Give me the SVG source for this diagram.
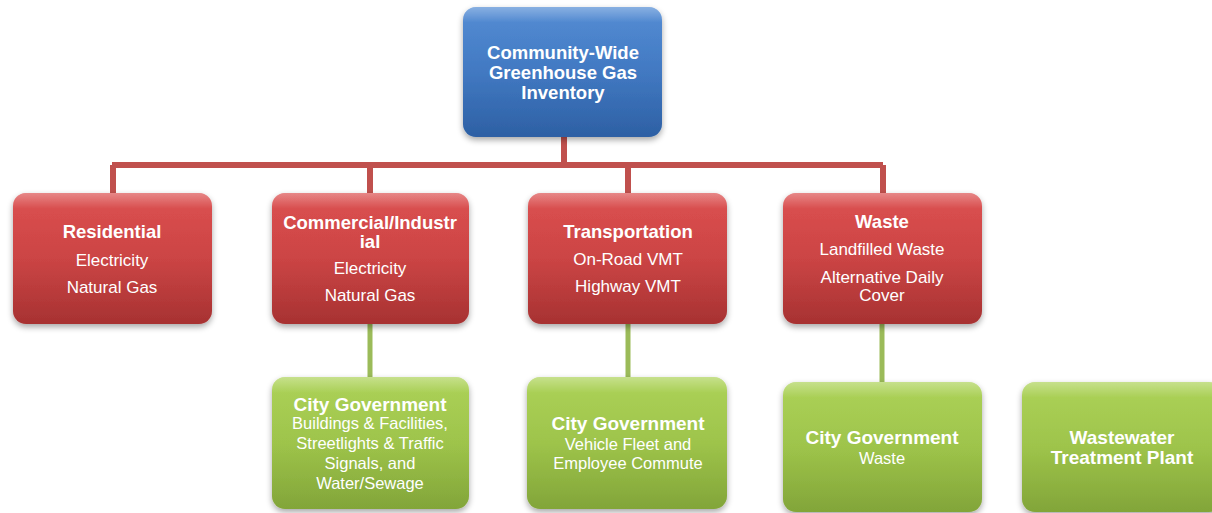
<svg xmlns="http://www.w3.org/2000/svg" width="1212" height="513" viewBox="0 0 1212 513">
<defs>
<linearGradient id="gBlue" x1="0" y1="0" x2="0" y2="1">
<stop offset="0" stop-color="#4a86d2"/><stop offset="0.5" stop-color="#3c75c0"/><stop offset="1" stop-color="#2d60a4"/>
</linearGradient>
<linearGradient id="gRed" x1="0" y1="0" x2="0" y2="1">
<stop offset="0" stop-color="#da4646"/><stop offset="0.5" stop-color="#ca3f3f"/><stop offset="1" stop-color="#a73232"/>
</linearGradient>
<linearGradient id="gGreen" x1="0" y1="0" x2="0" y2="1">
<stop offset="0" stop-color="#a8d04f"/><stop offset="0.5" stop-color="#9bc245"/><stop offset="1" stop-color="#82a539"/>
</linearGradient>
<linearGradient id="gShine" x1="0" y1="0" x2="0" y2="1">
<stop offset="0" stop-color="#ffffff" stop-opacity="0.35"/><stop offset="0.12" stop-color="#ffffff" stop-opacity="0.05"/><stop offset="1" stop-color="#ffffff" stop-opacity="0"/>
</linearGradient>
<filter id="shadow" x="-10%" y="-10%" width="120%" height="125%">
<feGaussianBlur in="SourceAlpha" stdDeviation="3"/>
<feOffset dx="0" dy="3" result="b"/>
<feComponentTransfer><feFuncA type="linear" slope="0.35"/></feComponentTransfer>
<feMerge><feMergeNode/><feMergeNode in="SourceGraphic"/></feMerge>
</filter>
</defs>
<style>
.t{font-family:"Liberation Sans",Arial,sans-serif;fill:#ffffff;text-anchor:middle}
.tb{font-weight:bold;font-size:18.5px}
.b{font-weight:bold;font-size:18.5px}
.r{font-size:17px}
.gb{font-weight:bold;font-size:19px}
.gr{font-size:16.5px}
.red{stroke:#c0504d;stroke-width:6;fill:none}
.grn{stroke:#9bbb59;stroke-width:5;fill:none}
.shine{fill:url(#gShine)}
</style>
<rect width="1212" height="513" fill="#ffffff"/>
<g id="connectors">
<path class="red" d="M564 137V165M112 165H883M113 165V193M370 165V193M628 165V193M883 165V193"/>
<path class="grn" d="M370 324V377M628 324V377M882 324V382"/>
</g>
<g id="top">
<rect x="463" y="7" width="199" height="130" rx="13" fill="url(#gBlue)" filter="url(#shadow)"/>
<rect x="463" y="7" width="199" height="130" rx="13" class="shine"/>
<text class="t tb" x="563" y="59" font-size="19.5">Community-Wide</text>
<text class="t tb" x="563" y="79">Greenhouse Gas</text>
<text class="t tb" x="563" y="99">Inventory</text>
</g>
<g id="residential">
<rect x="13" y="193" width="199" height="131" rx="13" fill="url(#gRed)" filter="url(#shadow)"/>
<rect x="13" y="193" width="199" height="131" rx="13" class="shine"/>
<text class="t b" x="112" y="238">Residential</text>
<text class="t r" x="112" y="266">Electricity</text>
<text class="t r" x="112" y="293">Natural Gas</text>
</g>
<g id="commercial">
<rect x="272" y="193" width="197" height="131" rx="13" fill="url(#gRed)" filter="url(#shadow)"/>
<rect x="272" y="193" width="197" height="131" rx="13" class="shine"/>
<text class="t b" x="370" y="229">Commercial/Industr</text>
<text class="t b" x="370" y="248">ial</text>
<text class="t r" x="370" y="274">Electricity</text>
<text class="t r" x="370" y="301">Natural Gas</text>
</g>
<g id="transportation">
<rect x="528" y="193" width="199" height="131" rx="13" fill="url(#gRed)" filter="url(#shadow)"/>
<rect x="528" y="193" width="199" height="131" rx="13" class="shine"/>
<text class="t b" x="628" y="238">Transportation</text>
<text class="t r" x="628" y="265">On-Road VMT</text>
<text class="t r" x="628" y="292">Highway VMT</text>
</g>
<g id="waste">
<rect x="783" y="193" width="199" height="131" rx="13" fill="url(#gRed)" filter="url(#shadow)"/>
<rect x="783" y="193" width="199" height="131" rx="13" class="shine"/>
<text class="t b" x="882" y="228">Waste</text>
<text class="t r" x="882" y="255">Landfilled Waste</text>
<text class="t r" x="882" y="283">Alternative Daily</text>
<text class="t r" x="882" y="301">Cover</text>
</g>
<g id="cg-buildings">
<rect x="272" y="377" width="197" height="132" rx="13" fill="url(#gGreen)" filter="url(#shadow)"/>
<rect x="272" y="377" width="197" height="132" rx="13" class="shine"/>
<text class="t gb" x="370" y="411">City Government</text>
<text class="t gr" x="370" y="429">Buildings &amp; Facilities,</text>
<text class="t gr" x="370" y="449">Streetlights &amp; Traffic</text>
<text class="t gr" x="370" y="469">Signals, and</text>
<text class="t gr" x="370" y="489">Water/Sewage</text>
</g>
<g id="cg-vehicles">
<rect x="527" y="377" width="200" height="132" rx="13" fill="url(#gGreen)" filter="url(#shadow)"/>
<rect x="527" y="377" width="200" height="132" rx="13" class="shine"/>
<text class="t gb" x="628" y="430">City Government</text>
<text class="t gr" x="628" y="450">Vehicle Fleet and</text>
<text class="t gr" x="628" y="469">Employee Commute</text>
</g>
<g id="cg-waste">
<rect x="783" y="382" width="199" height="130" rx="13" fill="url(#gGreen)" filter="url(#shadow)"/>
<rect x="783" y="382" width="199" height="130" rx="13" class="shine"/>
<text class="t gb" x="882" y="444">City Government</text>
<text class="t gr" x="882" y="464">Waste</text>
</g>
<g id="wastewater">
<rect x="1022" y="382" width="200" height="130" rx="13" fill="url(#gGreen)" filter="url(#shadow)"/>
<rect x="1022" y="382" width="200" height="130" rx="13" class="shine"/>
<text class="t gb" x="1122" y="444">Wastewater</text>
<text class="t gb" x="1122" y="464">Treatment Plant</text>
</g>
</svg>
